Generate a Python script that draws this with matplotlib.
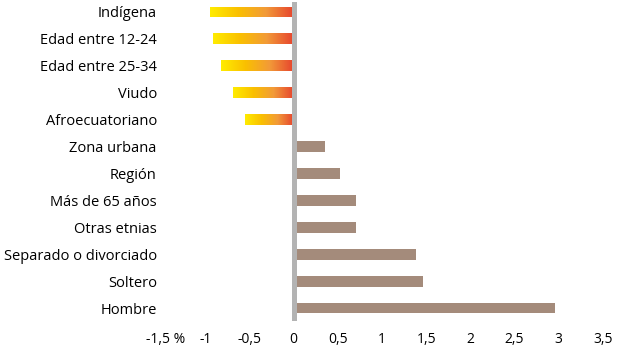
import matplotlib.pyplot as plt
import numpy as np
from matplotlib.colors import LinearSegmentedColormap
from matplotlib.transforms import ScaledTranslation

categorias = ["Indígena", "Edad entre 12-24", "Edad entre 25-34", "Viudo",
              "Afroecuatoriano", "Zona urbana", "Región", "Más de 65 años",
              "Otras etnias", "Separado o divorciado", "Soltero", "Hombre"]
valores = [-0.95, -0.91, -0.82, -0.69, -0.55, 0.36, 0.52, 0.71, 0.71, 1.39, 1.46, 2.96]
xticks = [-1.5, -1, -0.5, 0, 0.5, 1, 1.5, 2, 2.5, 3, 3.5]
xlabels = ["-1,5 %", "-1", "-0,5", "0", "0,5", "1", "1,5", "2", "2,5", "3", "3,5"]

plt.rcParams['font.family'] = ['Open Sans', 'DejaVu Sans']

fig = plt.figure(figsize=(6.23, 3.52), dpi=100)
ax = fig.add_axes([161/623, 31/352, 442/623, 319/352])

grad = LinearSegmentedColormap.from_list("g", ["#FFEC00", "#FAC000", "#F29A38", "#E6432E"])
pos = np.arange(len(categorias))
bars = ax.barh(pos, valores, height=0.4, color="#A48B7B", zorder=2)
for b, v in zip(bars, valores):
    if v < 0:
        b.set_facecolor("none")
        x0, y0, w, h = b.get_x(), b.get_y(), b.get_width(), b.get_height()
        im = ax.imshow(np.linspace(0, 1, 256).reshape(1, -1), cmap=grad, aspect='auto',
                       extent=[x0 + w, x0, y0 + h, y0] if w < 0 else [x0, x0 + w, y0 + h, y0],
                       zorder=2)
        im.set_clip_path(b)

ax.axvline(0, color="#B3B3B3", lw=3.6, zorder=3)

ax.set_xlim(-1.5, 3.5)
ax.set_ylim(11.48, -0.37)
ax.set_yticks(pos)
ax.set_yticklabels(categorias, fontsize=10.5, color="black")
ax.set_xticks(xticks)
ax.set_xticklabels(xlabels, fontsize=10, color="black")
ax.tick_params(axis='y', length=0, pad=3)
ax.tick_params(axis='x', length=0, pad=8)
lbl = ax.get_xticklabels()[0]
lbl.set_ha('left')
lbl.set_transform(lbl.get_transform() + ScaledTranslation(-11/72, 0, fig.dpi_scale_trans))
for s in ax.spines.values():
    s.set_visible(False)

fig.savefig("out.png", dpi=100)
